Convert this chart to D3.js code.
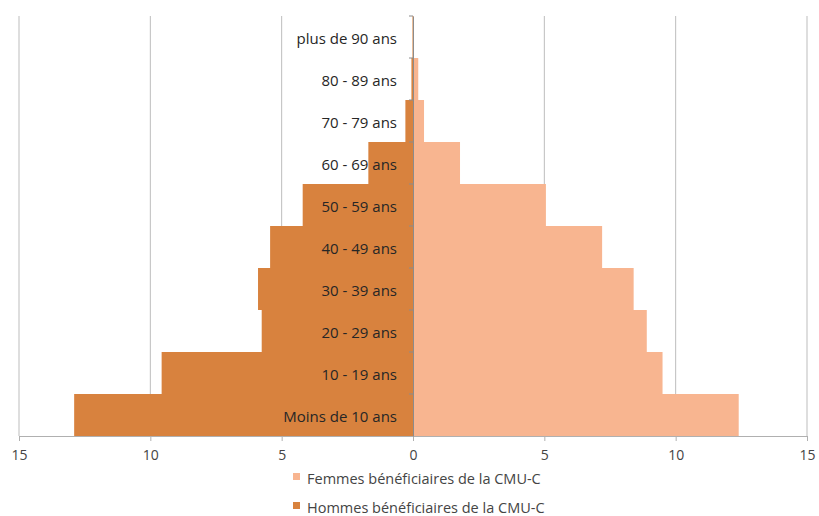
<!DOCTYPE html>
<html>
<head>
<meta charset="utf-8">
<style>
  body { margin: 0; background: #fff; }
  text { font-family: "Open Sans", "Liberation Sans", sans-serif; }
</style>
</head>
<body>
<div id="chart"></div>
<script src="https://cdn.jsdelivr.net/npm/d3@7"></script>
<script>
// age groups, bottom to top
var categories = ["Moins de 10 ans", "10 - 19 ans", "20 - 29 ans", "30 - 39 ans", "40 - 49 ans",
                  "50 - 59 ans", "60 - 69 ans", "70 - 79 ans", "80 - 89 ans", "plus de 90 ans"];
var hommes = [12.9, 9.57, 5.76, 5.9, 5.44, 4.2, 1.7, 0.29, 0.06, 0.02];
var femmes = [12.4, 9.5, 8.9, 8.4, 7.2, 5.06, 1.79, 0.42, 0.2, 0.03];
var xTicks = [-15, -10, -5, 0, 5, 10, 15];
var seriesNames = ["Femmes bénéficiaires de la CMU-C", "Hommes bénéficiaires de la CMU-C"];
var colors = ["#f8b590", "#d8823e"];

(function(){
  var width = 819, height = 516;
  var margin = { top: 16, left: 19, right: 12, bottom: 80 };
  var plotH = height - margin.top - margin.bottom;

  var svg = d3.select("#chart").append("svg")
    .attr("width", width).attr("height", height);

  var x = d3.scaleLinear()
    .domain([-15, 15])
    .range([margin.left, width - margin.right]);

  var y = d3.scaleBand()
    .domain(categories.slice().reverse())
    .range([margin.top, margin.top + plotH])
    .paddingInner(0).paddingOuter(0);

  // vertical gridlines
  svg.append("g").selectAll("line")
    .data(xTicks.filter(function(d){ return d !== 0; }))
    .enter().append("line")
      .attr("x1", function(d){ return x(d); })
      .attr("x2", function(d){ return x(d); })
      .attr("y1", margin.top)
      .attr("y2", margin.top + plotH)
      .style("stroke", "#bdbdbd")
      .style("stroke-width", 1);

  // bars: men on left
  svg.append("g").selectAll("rect")
    .data(hommes)
    .enter().append("rect")
      .attr("x", function(d){ return x(-d); })
      .attr("width", function(d){ return x(0) - x(-d); })
      .attr("y", function(d, i){ return y(categories[i]); })
      .attr("height", y.bandwidth())
      .style("fill", colors[1]);

  // women on right
  svg.append("g").selectAll("rect")
    .data(femmes)
    .enter().append("rect")
      .attr("x", x(0))
      .attr("width", function(d){ return x(d) - x(0); })
      .attr("y", function(d, i){ return y(categories[i]); })
      .attr("height", y.bandwidth())
      .style("fill", colors[0]);

  // bottom axis
  var xAxis = d3.axisBottom(x)
    .tickValues(xTicks)
    .tickSize(5)
    .tickPadding(9)
    .tickFormat(function(d){ return Math.abs(d); });
  var xg = svg.append("g")
    .attr("transform", "translate(0," + (margin.top + plotH) + ")")
    .call(xAxis);
  xg.select(".domain").style("stroke", "#b0b0b0");
  xg.selectAll(".tick line").style("stroke", "#b0b0b0");
  xg.selectAll(".tick text")
    .style("font-size", "14px")
    .style("fill", "#444")
    .style("font-family", "'Open Sans', sans-serif");

  // central axis with band ticks
  var yAxis = d3.axisLeft(y).tickSize(0).tickFormat("");
  var yg = svg.append("g")
    .attr("transform", "translate(" + x(0) + ",0)")
    .call(yAxis);
  yg.select(".domain").style("stroke", "#8c8c8c");
  yg.append("g").selectAll("line")
    .data(categories)
    .enter().append("line")
      .attr("x1", -4).attr("x2", 0)
      .attr("y1", function(d){ return y(d); })
      .attr("y2", function(d){ return y(d); })
      .style("stroke", "#8c8c8c");

  // category labels
  svg.append("g").selectAll("text")
    .data(categories)
    .enter().append("text")
      .attr("x", x(0) - 16)
      .attr("y", function(d){ return y(d) + y.bandwidth() / 2 + 7; })
      .attr("text-anchor", "end")
      .style("font-size", "15px")
      .style("fill", "#262626")
      .text(function(d){ return d; });

  // legend
  var legend = svg.append("g").selectAll("g")
    .data(seriesNames)
    .enter().append("g")
      .attr("transform", function(d, i){ return "translate(293," + (484 + i * 29) + ")"; });
  legend.append("rect")
    .attr("x", 0).attr("y", -11)
    .attr("width", 7).attr("height", 7)
    .style("fill", function(d, i){ return colors[i]; });
  legend.append("text")
    .attr("x", 14).attr("y", 0)
    .style("font-size", "14.5px")
    .style("fill", "#444")
    .text(function(d){ return d; });
})();
</script>
</body>
</html>
